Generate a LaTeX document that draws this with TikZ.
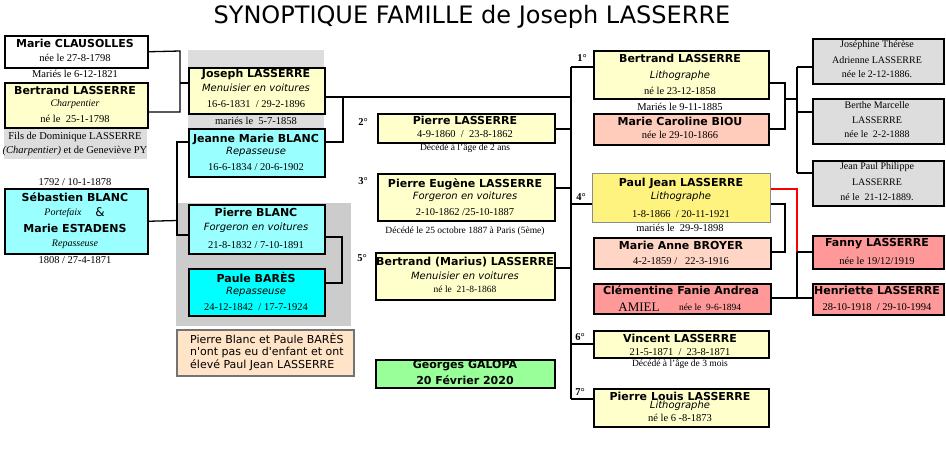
\documentclass[tikz,border=0pt]{standalone}
\usepackage{fontspec}
\setmainfont{Liberation Serif}
\newfontfamily\dv{DejaVu Sans}
\definecolor{yel}{HTML}{FFFFCC}
\definecolor{cyl}{HTML}{99FFFF}
\definecolor{cys}{HTML}{00FFFF}
\definecolor{sal}{HTML}{FFCCBB}
\definecolor{salb}{HTML}{FFD6C6}
\definecolor{rose}{HTML}{FF9999}
\definecolor{pjy}{HTML}{FFF380}
\definecolor{gr}{HTML}{DDDDDD}
\definecolor{grb}{HTML}{CCCCCC}
\definecolor{note}{HTML}{FFE4C8}
\definecolor{grn}{HTML}{99FF99}
\tikzset{
  bx/.style={draw, line width=1.5pt, inner sep=0pt, anchor=north west},
  bg/.style={draw=none, inner sep=0pt, anchor=north west},
  ln/.style={line width=1.3pt},
  rln/.style={line width=1.3pt, draw=red},
  nm/.style={font=\dv\bfseries\fontsize{11}{13}\selectfont, inner sep=0pt},
  it/.style={font=\dv\itshape\fontsize{10}{12}\selectfont, inner sep=0pt},
  sr/.style={font=\fontsize{10.5}{12}\selectfont, inner sep=0pt},
  ss/.style={font=\fontsize{9.5}{11}\selectfont, inner sep=0pt},
  gb/.style={font=\fontsize{10}{12}\selectfont, inner sep=0pt},
  si/.style={font=\itshape\fontsize{10}{12}\selectfont, inner sep=0pt},
  num/.style={font=\bfseries\fontsize{10.5}{12}\selectfont, inner sep=0pt},
  nt/.style={font=\dv\fontsize{11}{13}\selectfont, inner sep=0pt, anchor=west},
}
\begin{document}
\begin{tikzpicture}[x=1pt,y=-1pt]
\useasboundingbox (0,0) rectangle (946,451);
\node[font=\dv\fontsize{24}{28}\selectfont, inner sep=0pt] (title) at (472,17) {SYNOPTIQUE FAMILLE de Joseph LASSERRE};

% backgrounds
\node[bg, fill=gr, minimum width=136pt, minimum height=80pt] (grayj) at (188,50) {};
\node[bg, fill=grb, minimum width=175pt, minimum height=123pt] (grayp) at (176,203) {};
\node[bg, fill=gr, minimum width=143pt, minimum height=30pt] (fils) at (4,129) {};

% left column
\node[bx, fill=white, minimum width=143pt, minimum height=32pt] (clau) at (4,35) {};
\node[nm] (clau1) at (75,43) {Marie CLAUSOLLES};
\node[sr] (clau2) at (75,58) {née le 27-8-1798};
\node[sr] (mar1) at (75,74) {Mariés le 6-12-1821};
\node[bx, fill=yel, minimum width=143pt, minimum height=45pt] (bert1) at (4,82) {};
\node[nm] (bert1a) at (75,90) {Bertrand LASSERRE};
\node[si] (bert1b) at (75,104) {Charpentier};
\node[sr] (bert1c) at (75,119) {né le \ 25-1-1798};
\node[sr] (fils1) at (75,137) {Fils de Dominique LASSERRE};
\node[sr] (fils2) at (75,151) {\textit{(Charpentier)} et de Geneviève PY};
\node[sr] (seb0) at (75,182) {1792 / 10-1-1878};
\node[bx, fill=cyl, minimum width=143pt, minimum height=65pt] (seb) at (4,188) {};
\node[nm] (seba) at (75,197) {Sébastien BLANC};
\node[si] (sebb) at (63,213) {Portefaix};
\node[font=\dv\fontsize{12}{14}\selectfont, inner sep=0pt] (seamp) at (100,212) {\&};
\node[nm] (sebc) at (75,228) {Marie ESTADENS};
\node[si] (sebd) at (75,244) {Repasseuse};
\node[sr] (seb1) at (75,260) {1808 / 27-4-1871};

% second column
\node[bx, fill=yel, minimum width=136pt, minimum height=46pt] (jos) at (188,67) {};
\node[nm] (josa) at (256,74) {Joseph LASSERRE};
\node[it] (josb) at (256,88) {Menuisier en voitures};
\node[sr] (josc) at (256,104) {16-6-1831 \ / 29-2-1896};
\node[sr] (mar2) at (256,121) {mariés le \ 5-7-1858};
\node[bx, fill=cyl, minimum width=136pt, minimum height=48pt] (jea) at (188,128) {};
\node[nm] (jeaa) at (256,139) {Jeanne Marie BLANC};
\node[it] (jeab) at (256,152) {Repasseuse};
\node[sr] (jeac) at (256,167) {16-6-1834 / 20-6-1902};
\node[bx, fill=cyl, minimum width=136pt, minimum height=49pt] (pbl) at (188,204) {};
\node[nm] (pbla) at (256,212) {Pierre BLANC};
\node[it] (pblb) at (256,228) {Forgeron en voitures};
\node[sr] (pblc) at (256,245) {21-8-1832 / 7-10-1891};
\node[bx, fill=cys, minimum width=136pt, minimum height=47pt] (pau) at (188,268) {};
\node[nm] (paua) at (256,277) {Paule BARÈS};
\node[it] (paub) at (256,292) {Repasseuse};
\node[sr] (pauc) at (256,307) {24-12-1842 \ / 17-7-1924};
\node[bx, draw=black!55, fill=note, minimum width=177pt, minimum height=46pt] (note) at (176,329) {};
\node[nt] (note1) at (190,338) {Pierre Blanc et Paule BARÈS};
\node[nt] (note2) at (190,352) {n'ont pas eu d'enfant et ont};
\node[nt] (note3) at (190,365) {élevé Paul Jean LASSERRE};

% middle column
\node[num] (n2) at (363,122) {2°};
\node[bx, fill=yel, minimum width=177pt, minimum height=29pt] (p2) at (377,113) {};
\node[nm] (p2a) at (465,120) {Pierre LASSERRE};
\node[sr] (p2b) at (465,134) {4-9-1860 \ / \ 23-8-1862};
\node[ss] (p2c) at (465,148) {Décédé à l'âge de 2 ans};
\node[num] (n3) at (363,181) {3°};
\node[bx, fill=yel, minimum width=177pt, minimum height=47pt] (p3) at (377,173) {};
\node[nm] (p3a) at (465,184) {Pierre Eugène LASSERRE};
\node[it] (p3b) at (465,197) {Forgeron en voitures};
\node[sr] (p3c) at (465,212) {2-10-1862 /25-10-1887};
\node[ss] (p3d) at (465,231) {Décédé le 25 octobre 1887 à Paris (5ème)};
\node[num] (n5) at (362,258) {5°};
\node[bx, fill=yel, minimum width=179pt, minimum height=47pt] (p5) at (375,252) {};
\node[nm] (p5a) at (465,262) {Bertrand (Marius) LASSERRE};
\node[it] (p5b) at (465,276) {Menuisier en voitures};
\node[ss] (p5c) at (465,289) {né le \ 21-8-1868};
\node[bx, fill=grn, minimum width=179pt, minimum height=28pt] (gal) at (375,359) {};
\node[nm] (gala) at (465,366) {Georges GALOPA};
\node[nm] (galb) at (465,380) {20 Février 2020};

% right column
\node[num] (n1) at (582,58) {1°};
\node[bx, fill=yel, minimum width=175pt, minimum height=48pt] (c1) at (593,50) {};
\node[nm] (c1a) at (680,58) {Bertrand LASSERRE};
\node[it] (c1b) at (680,76) {Lithographe};
\node[sr] (c1c) at (680,91) {né le 23-12-1858};
\node[sr] (mar3) at (680,107) {Mariés le 9-11-1885};
\node[bx, fill=sal, minimum width=175pt, minimum height=31pt] (biou) at (593,113) {};
\node[nm] (bioua) at (680,121) {Marie Caroline BIOU};
\node[sr] (bioub) at (680,135) {née le 29-10-1866};
\node[num] (n4) at (581,197) {4°};
\node[bx, draw=black!45, line width=1.2pt, fill=pjy, minimum width=178pt, minimum height=49pt] (pj) at (592,173) {};
\node[nm] (pja) at (681,183) {Paul Jean LASSERRE};
\node[it] (pjb) at (681,197) {Lithographe};
\node[sr] (pjc) at (681,214) {1-8-1866 \ / 20-11-1921};
\node[sr] (mar4) at (680,228) {mariés le \ 29-9-1898};
\node[bx, fill=salb, minimum width=177pt, minimum height=31pt] (broy) at (593,237) {};
\node[nm] (broya) at (681,245) {Marie Anne BROYER};
\node[sr] (broyb) at (681,261) {4-2-1859 / \ \ 22-3-1916};
\node[bx, fill=rose, minimum width=177pt, minimum height=30pt] (amiel) at (593,283) {};
\node[nm] (amiela) at (681,290) {Clémentine Fanie Andrea};
\node[font=\fontsize{13}{15}\selectfont, inner sep=0pt] (amielb) at (639,307) {AMIEL};
\node[ss] (amielc) at (710,307) {née le \ 9-6-1894};
\node[num] (n6) at (580,337) {6°};
\node[bx, fill=yel, minimum width=175pt, minimum height=27pt] (vin) at (593,330) {};
\node[nm] (vina) at (680,338) {Vincent LASSERRE};
\node[sr] (vinb) at (680,352) {21-5-1871 \ / \ 23-8-1871};
\node[ss] (vinc) at (680,364) {Décédé à l'âge de 3 mois};
\node[num] (n7) at (580,392) {7°};
\node[bx, fill=yel, minimum width=175pt, minimum height=38pt] (pl) at (593,388) {};
\node[nm] (pla) at (680,396) {Pierre Louis LASSERRE};
\node[it] (plb) at (680,406) {Lithographe};
\node[sr] (plc) at (680,418) {né le 6 -8-1873};

% far right
\node[bx, fill=gr, minimum width=131pt, minimum height=45pt] (g1) at (812,38) {};
\node[gb] (g1a) at (877,45) {Joséphine Thérèse};
\node[gb] (g1b) at (877,60) {Adrienne LASSERRE};
\node[gb] (g1c) at (877,74) {née le 2-12-1886.};
\node[bx, fill=gr, minimum width=131pt, minimum height=45pt] (g2) at (812,98) {};
\node[gb] (g2a) at (877,105) {Berthe Marcelle};
\node[gb] (g2b) at (877,120) {LASSERRE};
\node[gb] (g2c) at (877,134) {née le \ 2-2-1888};
\node[bx, fill=gr, minimum width=131pt, minimum height=45pt] (g3) at (812,160) {};
\node[gb] (g3a) at (877,167) {Jean Paul Philippe};
\node[gb] (g3b) at (877,182) {LASSERRE};
\node[gb] (g3c) at (877,197) {né le \ 21-12-1889.};
\node[bx, fill=rose, minimum width=131pt, minimum height=33pt] (fan) at (812,235) {};
\node[nm] (fana) at (877,244) {Fanny LASSERRE};
\node[sr] (fanb) at (877,261) {née le 19/12/1919};
\node[bx, fill=rose, minimum width=131pt, minimum height=31pt] (hen) at (812,283) {};
\node[nm] (hena) at (877,290) {Henriette LASSERRE};
\node[sr] (henb) at (877,307) {28-10-1918 \ / 29-10-1994};

% connectors left
\draw[ln] (clau.east) -- (180,51) -- (180,112) -- (bert1.east |- 0,112);
\draw[ln] (180,83) -- (jos.west |- 0,83);
\draw[ln] (seb.east) -- (177,220.5);
\draw[ln] (jea.west |- 0,142) -- (177,142) -- (177,235) -- (pbl.west |- 0,235);
\draw[ln] (pbl.east |- 0,237) -- (342,237) -- (342,283) -- (pau.east |- 0,283);
\draw[ln] (jos.east |- 0,97) -- (571,97);
\draw[ln] (jea.east |- 0,142) -- (343,142) -- (343,97);
% children
\draw[ln] (571,67) -- (571,399);
\draw[ln] (571,67) -- (c1.west |- 0,67);
\draw[ln] (p2.east |- 0,129) -- (571,129);
\draw[ln] (p3.east |- 0,188) -- (571,188);
\draw[ln] (571,204) -- (pj.west |- 0,204);
\draw[ln] (p5.east |- 0,268) -- (571,268);
\draw[ln] (571,344) -- (vin.west |- 0,344);
\draw[ln] (571,399) -- (pl.west |- 0,399);
% grandchildren
\draw[ln] (c1.east |- 0,83) -- (785,83) -- (785,129) -- (biou.east |- 0,129);
\draw[ln] (785,99) -- (797,99);
\draw[ln] (797,67) -- (797,173);
\draw[ln] (797,67) -- (g1.west |- 0,67);
\draw[ln] (797,112) -- (g2.west |- 0,112);
\draw[ln] (797,173) -- (g3.west |- 0,173);
\draw[ln] (pj.east |- 0,204) -- (785,204) -- (785,252) -- (broy.east |- 0,252);
\draw[rln] (pj.east |- 0,189) -- (797,189) -- (797,252);
\draw[ln] (797,252) -- (797,298);
\draw[ln] (797,252) -- (fan.west |- 0,252);
\draw[ln] (amiel.east |- 0,298) -- (hen.west |- 0,298);
\end{tikzpicture}
\end{document}
